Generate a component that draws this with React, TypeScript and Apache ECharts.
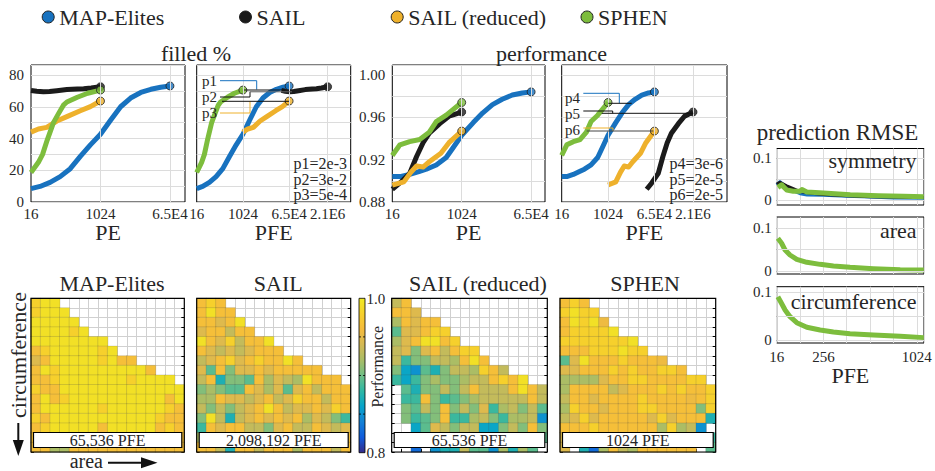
import React, { useEffect, useRef } from 'react';
import * as echarts from 'echarts';

const FONT = 'Liberation Serif';
const INK = '#262626';

const methods = ['MAP-Elites', 'SAIL', 'SAIL (reduced)', 'SPHEN'];
const methodColors = ['#1872bf', '#1b1b1b', '#eeb12c', '#7dbd3d'];
const legendLefts = [41.7, 239, 390.7, 580.5];

// ---- filled % against log2(number of evaluations, PE) ----
const meFillLog2 = [4, 4.78, 5.65, 6.52, 7.39, 8.26, 9.13, 10, 10.87, 11.74, 12.6, 13.48, 14.35, 15.2, 16];
const meFill = [8.4, 9.8, 12.4, 16, 21, 28.7, 36, 42.7, 51.5, 60, 65.5, 69, 71, 72.3, 73.1];
const sailFillLog2 = [4, 4.5, 5.07, 5.6, 6.23, 7.1, 8, 8.55, 9.2, 10];
const sailFill = [70.3, 69.8, 69.4, 69.6, 70.1, 70.8, 71.2, 71.3, 71.8, 72.6];
const sailRedFillLog2 = [4, 4.64, 5.36, 6.23, 7.1, 8.26, 9.13, 10];
const sailRedFill = [44, 46, 47, 51, 53.8, 57.5, 60.1, 63.6];
const sphenFillLog2 = [4, 4.64, 5.0, 5.4, 5.94, 6.4, 6.8, 7.1, 8.0, 8.9, 10];
const sphenFill = [18.6, 25, 30, 39, 50, 56, 61, 63, 66, 68.5, 70.5];

// ---- performance against log2(PE) ----
const mePerfLog2 = [4, 4.66, 5.5, 6.37, 6.94, 7.8, 8.66, 9.3, 10, 11, 11.8, 12.66, 13.5, 14.37, 15.23, 16];
const mePerf = [0.904, 0.904, 0.906, 0.909, 0.911, 0.915, 0.922, 0.932, 0.943, 0.955, 0.964, 0.972, 0.977, 0.981, 0.983, 0.984];
const sailPerfLog2 = [4, 4.66, 5.5, 6.1, 6.66, 7.2, 8.1, 8.9, 10];
const sailPerf = [0.892, 0.898, 0.907, 0.923, 0.936, 0.945, 0.954, 0.961, 0.965];
const sailRedPerfLog2 = [4, 5.0, 5.6, 6.1, 6.66, 7.2, 8.2, 8.9, 10];
const sailRedPerf = [0.896, 0.899, 0.908, 0.914, 0.913, 0.918, 0.926, 0.936, 0.947];
const sphenPerfLog2 = [4, 4.66, 5.5, 6.37, 7.2, 7.8, 8.66, 10];
const sphenPerf = [0.924, 0.934, 0.937, 0.939, 0.946, 0.956, 0.962, 0.974];

// PFE spent per PE (2,098,192 / 1024 and 65,536 / 1024)
const sailPfePerPe = 2048;
const sailRedPfePerPe = 64;

// ---- prediction RMSE (x = tick position units of the picture) ----
const symMeX = [4, 4.14, 4.43, 4.71, 5, 5.3, 6, 7, 8, 9, 10.3];
const symMe = [0.036, 0.044, 0.03, 0.022, 0.015, 0.012, 0.011, 0.009, 0.007, 0.005, 0.004];
const symSailX = [4, 4.14, 4.43, 4.71, 5, 5.5, 6, 7, 8, 9, 10.3];
const symSail = [0.038, 0.042, 0.034, 0.027, 0.02, 0.016, 0.013, 0.01, 0.008, 0.007, 0.006];
const symSphenX = [4.05, 4.21, 4.43, 4.71, 5.0, 5.08, 5.29, 6.0, 7.15, 8.36, 9.43, 10.3];
const symSphen = [0.03, 0.036, 0.024, 0.021, 0.021, 0.025, 0.019, 0.0167, 0.0127, 0.0103, 0.0087, 0.0079];
const areaSphenX = [4.05, 4.21, 4.36, 4.57, 4.86, 5.29, 5.86, 6.43, 7.14, 8.14, 9.29, 10.3];
const areaSphen = [0.0766, 0.065, 0.049, 0.0375, 0.0273, 0.0203, 0.0156, 0.0117, 0.0086, 0.0055, 0.0031, 0.0023];
const circSphenX = [4.05, 4.21, 4.36, 4.57, 4.86, 5.29, 5.86, 6.43, 7.14, 8.14, 9.29, 10.3];
const circSphen = [0.09, 0.076, 0.0625, 0.0486, 0.036, 0.0264, 0.0208, 0.0167, 0.0132, 0.0104, 0.0076, 0.0049];

// ---- tick labels ----
const peTicks = [4, 10, 16];
const peTickLabels = ['16', '1024', '6.5E4'];
const pfeTicks = [4, 10, 16, 21];
const pfeTickLabels = ['16', '1024', '6.5E4', '2.1E6'];
const rmseTicks = [4, 6, 10];
const rmseTickLabels = ['16', '256', '1024'];

// ---- archive heatmaps (row 0 = top), performance level codes ----
const cellLevel: Record<string, number> = {
  Y: 0.992, y: 0.98, O: 0.964, o: 0.956, K: 0.946, L: 0.932, G: 0.921, g: 0.907,
  T: 0.894, t: 0.884, C: 0.872, c: 0.862, B: 0.85, D: 0.828,
};
const meRows = [
  'yYY.............',
  'yYYY............',
  'YYYYY...........',
  'YYYYyY..........',
  'YYYYYYYY........',
  'OyYYYYYyY.......',
  'KOYYYYYyYOO.....',
  'OYyYYYYYYYYYO...',
  'OOyYYYYYYYyYYYY.',
  'yOOYYYYYYYYYYYYY',
  'OYOyYYYYYYYYYYOY',
  'OYYYYYYyYYYYYYyO',
  'yOYYYYYYYYYYYyOO',
  'OyYYYYYOYYYYYOyO',
  'OOYYYYYYYYYYYOOO',
  'OOGGOOOOOOOOOOOO',
];
const sailRows = [
  'OyO.............',
  'OYOO............',
  'OOKOY...........',
  'KOOLOO..........',
  'YOKyLOOY........',
  'OKLKLKOOO.......',
  'LKOyKOyOOYO.....',
  'KTOgKKOKOOOOO...',
  'LOCggTOGKLGYOOO.',
  'gGgTTOKGKTKOLOOO',
  'GGOKKLKOLKyOOLOO',
  'LgLgLKOYOLKKOKyO',
  'gYLCLKOKOKOGKLgt',
  'tOKOOLLgKOLLOKLK',
  'GOKOOLgKOOLOKOLO',
  'OOLCOOLOOOGOOOLO',
];
const sailRedRows = [
  'LO..............',
  'OOK.............',
  'GOKOO...........',
  'TKKOyy..........',
  'GKOYYOy.........',
  'LKgKOLOyy.......',
  'LtggLLGOYO......',
  'gcBTCgLLGyOL....',
  'tctgGggGLLOyOY..',
  '.TCggLgLOLLLOYOL',
  '.ttOgtTgGLLLLLOL',
  '.gTLgOgLgKtGLgLT',
  '.gtTgOttGLgtGGLB',
  '..cTKLgLLccgLgOg',
  '..TgGgLgGgTgLgGT',
  '..D.BCCLTTBGCGT.',
];
const sphenRows = [
  'OyO.............',
  'yYyy............',
  'OYyYo...........',
  'OyyyyY..........',
  'yyyyyyyY........',
  'OOOyyyYyy.......',
  'TKYOOOyOOOo.....',
  'KKOOOyOyOOyyO...',
  'GGGGKOOyyOOOOyy.',
  'GOOOOLKOOOyOyOOy',
  'LOOKOOOOyOOOOoOy',
  'GyOOKOOOyyOOOOgy',
  'LKyKOOOOOKyKOOOC',
  'OOOyOOOOOOGyGLB.',
  'KOOOOOOOOOOOOOOt',
  'K.CDGOLGOOOOOO.T',
];
const heatTitles = ['MAP-Elites', 'SAIL', 'SAIL (reduced)', 'SPHEN'];
const heatLabels = ['65,536 PFE', '2,098,192 PFE', '65,536 PFE', '1024 PFE'];

const parula = ['#352a87', '#0f5cdd', '#1481d6', '#06a4ca', '#2eb7a4', '#6fbe85', '#a9bd66', '#d4b954', '#f5bb3c', '#f6d02c', '#f0ea22'];

function cells(rows: string[]) {
  const out: number[][] = [];
  rows.forEach((row, r) => {
    row.split('').forEach((ch, c) => {
      if (cellLevel[ch] !== undefined) out.push([c, r, cellLevel[ch]]);
    });
  });
  return out;
}

function pairs(xs: number[], ys: number[], shift = 0) {
  return xs.map((x, i) => [x + shift, ys[i]]);
}

function buildOption() {
  const grid: any[] = [];
  const xAxis: any[] = [];
  const yAxis: any[] = [];
  const series: any[] = [];
  const graphic: any[] = [];
  const heatIdx: number[] = [];
  const gridLine = { color: '#dcdcdc', width: 1, type: 'solid' };

  const txt = (x: number, y: number, text: string, size: number, extra: any = {}, rot = 0) => ({
    type: 'text', x, y, rotation: rot, z: 100, silent: true,
    style: { text, fontFamily: FONT, fontSize: size, fill: INK, align: 'center', verticalAlign: 'middle', ...extra },
  });
  const pl = (pts: number[][], color: string, w = 1) => ({
    type: 'polyline', z: 60, silent: true, shape: { points: pts }, style: { stroke: color, lineWidth: w },
  });

  function addLinePlot(box: number[], xMax: number, ticks: number[], tickLabels: string[], xName: string,
    yMin: number, yMax: number, yInt: number, yLabel: any, curves: any[]) {
    const gi = grid.length;
    grid.push({ left: box[0], top: box[1], width: box[2], height: box[3], show: true, borderColor: '#000', borderWidth: 1, backgroundColor: 'transparent', containLabel: false, outerBoundsMode: 'none' });
    const xi = xAxis.length;
    xAxis.push({
      type: 'value', gridIndex: gi, min: 4, max: xMax, interval: 1,
      axisLine: { show: false }, axisTick: { show: false }, splitLine: { show: false },
      axisLabel: {
        fontFamily: FONT, fontSize: 15, color: INK, margin: 4,
        formatter: (v: number) => { const k = ticks.indexOf(Math.round(v * 1000) / 1000); return k >= 0 ? tickLabels[k] : ''; },
      },
      name: xName, nameLocation: 'middle', nameGap: 15, nameTextStyle: { fontFamily: FONT, fontSize: 22, color: INK },
    });
    const yi = yAxis.length;
    yAxis.push({
      type: 'value', gridIndex: gi, min: yMin, max: yMax, interval: yInt,
      axisLine: { show: false }, axisTick: { show: false }, splitLine: { show: true, lineStyle: gridLine },
      axisLabel: yLabel ? { fontFamily: FONT, fontSize: 15, color: INK, margin: 7, formatter: yLabel } : { show: false },
    });
    series.push({
      type: 'line', xAxisIndex: xi, yAxisIndex: yi, data: [], silent: true, z: 1,
      markLine: { silent: true, symbol: ['none', 'none'], label: { show: false }, lineStyle: gridLine, emphasis: { disabled: true }, data: ticks.filter(t => t > 4).map(t => ({ xAxis: t })) },
    });
    curves.forEach(c => series.push({
      name: c.name, type: 'line', xAxisIndex: xi, yAxisIndex: yi, data: c.data, symbol: 'none', z: 3,
      lineStyle: { color: c.color, width: 5, cap: 'butt', join: 'round' }, itemStyle: { color: c.color },
    }));
    curves.forEach(c => series.push({
      name: c.name, type: 'scatter', xAxisIndex: xi, yAxisIndex: yi, data: [c.data[c.data.length - 1]], symbolSize: 8, z: 4,
      itemStyle: { color: c.color, borderColor: '#222', borderWidth: 1 },
    }));
  }

  function addRmsePlot(box: number[], yMin: number, yMax: number, curves: any[], showX: boolean, inner: string, innerY: number) {
    const gi = grid.length;
    grid.push({ left: box[0], top: box[1], width: box[2], height: box[3], show: true, borderColor: '#000', borderWidth: 1, backgroundColor: 'transparent', containLabel: false, outerBoundsMode: 'none' });
    const xi = xAxis.length;
    xAxis.push({
      type: 'value', gridIndex: gi, min: 4, max: 10.31, interval: 1,
      axisLine: { show: false }, axisTick: { show: false }, splitLine: { show: true, lineStyle: gridLine },
      axisLabel: showX ? {
        fontFamily: FONT, fontSize: 15, color: INK, margin: 6,
        formatter: (v: number) => { const k = rmseTicks.indexOf(Math.round(v * 1000) / 1000); return k >= 0 ? rmseTickLabels[k] : ''; },
      } : { show: false },
      name: showX ? 'PFE' : '', nameLocation: 'middle', nameGap: 21, nameTextStyle: { fontFamily: FONT, fontSize: 22, color: INK },
    });
    const yi = yAxis.length;
    yAxis.push({
      type: 'value', gridIndex: gi, min: yMin, max: yMax,
      axisLine: { show: false }, splitLine: { show: false },
      axisTick: { show: true, inside: true, length: 3, customValues: [0, 0.05, 0.1], lineStyle: { color: '#333' } },
      axisLabel: {
        fontFamily: FONT, fontSize: 15, color: INK, margin: 5, customValues: [0, 0.1],
        formatter: (v: number) => (Math.abs(v) < 1e-9 ? '0' : Math.abs(v - 0.1) < 1e-9 ? '0.1' : ''),
      },
    });
    series.push({
      type: 'line', xAxisIndex: xi, yAxisIndex: yi, data: [], silent: true, z: 1,
      markLine: { silent: true, symbol: ['none', 'none'], label: { show: false }, lineStyle: gridLine, emphasis: { disabled: true }, data: [{ yAxis: 0 }, { yAxis: 0.05 }, { yAxis: 0.1 }] },
    });
    curves.forEach(c => series.push({
      name: c.name, type: 'line', xAxisIndex: xi, yAxisIndex: yi, data: c.data, symbol: 'none', z: 3,
      lineStyle: { color: c.color, width: c.width, cap: 'butt', join: 'round' }, itemStyle: { color: c.color },
    }));
    graphic.push(txt(box[0] + box[2] - 7.5, innerY, inner, 22, { align: 'right' }));
  }

  const cats = Array.from({ length: 16 }, (_, i) => String(i));
  function addHeatmap(box: number[], rows: string[], title: string, titleX: number, label: string) {
    const gi = grid.length;
    grid.push({ left: box[0], top: box[1], width: box[2], height: box[3], show: false, containLabel: false, outerBoundsMode: 'none' });
    const tick = { show: true, inside: true, length: 3, interval: 0, lineStyle: { color: '#000', width: 1 } };
    const xi = xAxis.length;
    xAxis.push({
      type: 'category', gridIndex: gi, data: cats, axisLine: { show: false }, axisLabel: { show: false, interval: 0 },
      axisTick: tick, splitLine: { show: true, interval: 0, lineStyle: { color: '#d0d0d0', width: 1 } },
    });
    const yi = yAxis.length;
    yAxis.push({
      type: 'category', gridIndex: gi, data: cats, inverse: true, axisLine: { show: false }, axisLabel: { show: false, interval: 0 },
      axisTick: tick, splitLine: { show: true, interval: 0, lineStyle: { color: '#d0d0d0', width: 1 } },
    });
    yAxis.push({
      type: 'category', gridIndex: gi, data: cats, inverse: true, position: 'right', axisLine: { show: false },
      axisLabel: { show: false, interval: 0 }, axisTick: tick, splitLine: { show: false },
    });
    heatIdx.push(series.length);
    series.push({
      type: 'heatmap', xAxisIndex: xi, yAxisIndex: yi, data: cells(rows), silent: true,
      itemStyle: { borderColor: 'rgba(80,80,80,0.3)', borderWidth: 0.6 }, emphasis: { disabled: true },
    });
    graphic.push({ type: 'rect', z: 90, silent: true, shape: { x: box[0], y: box[1], width: box[2], height: box[3] }, style: { fill: 'none', stroke: '#000', lineWidth: 1.2 } });
    graphic.push({ type: 'rect', z: 95, silent: true, shape: { x: box[0] + 2.5, y: 432.5, width: box[2] - 5, height: 15 }, style: { fill: '#fff', stroke: '#000', lineWidth: 1.2 } });
    graphic.push(txt(box[0] + box[2] / 2, 440.3, label, 16));
    graphic.push(txt(titleX, 283.3, title, 22));
  }

  // --- top row: filled % and performance ---
  const fillCurves = (pfe: boolean) => [
    { name: methods[0], color: methodColors[0], data: pairs(meFillLog2, meFill) },
    { name: methods[1], color: methodColors[1], data: pairs(sailFillLog2, sailFill, pfe ? Math.log2(sailPfePerPe) : 0) },
    { name: methods[2], color: methodColors[2], data: pairs(sailRedFillLog2, sailRedFill, pfe ? Math.log2(sailRedPfePerPe) : 0) },
    { name: methods[3], color: methodColors[3], data: pairs(sphenFillLog2, sphenFill) },
  ];
  const perfCurves = (pfe: boolean) => [
    { name: methods[0], color: methodColors[0], data: pairs(mePerfLog2, mePerf) },
    { name: methods[1], color: methodColors[1], data: pairs(sailPerfLog2, sailPerf, pfe ? Math.log2(sailPfePerPe) : 0) },
    { name: methods[2], color: methodColors[2], data: pairs(sailRedPerfLog2, sailRedPerf, pfe ? Math.log2(sailRedPfePerPe) : 0) },
    { name: methods[3], color: methodColors[3], data: pairs(sphenPerfLog2, sphenPerf) },
  ];
  const fillLabel = (v: number) => (Math.abs(v % 20) < 1e-6 && v <= 80 ? String(Math.round(v)) : '');
  const perfLabel = (v: number) => { const k = Math.round(v * 100); return Math.abs(v * 100 - k) < 1e-4 && k % 4 === 0 ? v.toFixed(2) : ''; };

  addLinePlot([31, 65, 154, 137], 17.3, peTicks, peTickLabels, 'PE', 0, 86.3, 10, fillLabel, fillCurves(false));
  addLinePlot([196.7, 65, 154, 137], 24, pfeTicks, pfeTickLabels, 'PFE', 0, 86.3, 10, null, fillCurves(true));
  addLinePlot([392.3, 65, 152.7, 137], 17.2, peTicks, peTickLabels, 'PE', 0.88, 1.0094, 0.02, perfLabel, perfCurves(false));
  addLinePlot([561.7, 65, 165.3, 137], 25.4, pfeTicks, pfeTickLabels, 'PFE', 0.88, 1.0094, 0.02, null, perfCurves(true));

  // --- right column: prediction RMSE ---
  addRmsePlot([776.7, 148.5, 147.3, 56.5], -0.012, 0.123, [
    { name: methods[0], color: methodColors[0], width: 3, data: pairs(symMeX, symMe) },
    { name: methods[1], color: methodColors[1], width: 3, data: pairs(symSailX, symSail) },
    { name: methods[3], color: methodColors[3], width: 5, data: pairs(symSphenX, symSphen) },
  ], false, 'symmetry', 160);
  addRmsePlot([776.7, 217, 147.3, 57], -0.007, 0.1265, [
    { name: methods[3], color: methodColors[3], width: 5, data: pairs(areaSphenX, areaSphen) },
  ], false, 'area', 230);
  addRmsePlot([776.7, 286.7, 147.3, 56.3], -0.0063, 0.111, [
    { name: methods[3], color: methodColors[3], width: 5, data: pairs(circSphenX, circSphen) },
  ], true, 'circumference', 301.7);

  // --- bottom row: archives ---
  addHeatmap([31, 298.3, 153.3, 153.7], meRows, heatTitles[0], 112, heatLabels[0]);
  addHeatmap([196.7, 298.3, 154, 153.7], sailRows, heatTitles[1], 278.3, heatLabels[1]);
  addHeatmap([391.7, 298.3, 155.6, 153.7], sailRedRows, heatTitles[2], 478, heatLabels[2]);
  addHeatmap([560, 298.3, 155.7, 153.7], sphenRows, heatTitles[3], 645, heatLabels[3]);

  // titles
  graphic.push(txt(196, 53.3, 'filled %', 22));
  graphic.push(txt(551.5, 53.3, 'performance', 22));
  graphic.push(txt(837.5, 132, 'prediction RMSE', 23));

  // significance brackets, filled % (PFE)
  graphic.push(txt(202, 81.2, 'p1', 15, { align: 'left' }));
  graphic.push(txt(202, 97, 'p2', 15, { align: 'left' }));
  graphic.push(txt(202, 113.3, 'p3', 15, { align: 'left' }));
  graphic.push(pl([[220, 80.7], [256.7, 80.7], [256.7, 89.5]], methodColors[0]));
  graphic.push(pl([[244, 90], [285, 90]], '#111'));
  graphic.push(pl([[220, 97], [250, 97], [250, 91.8]], '#111'));
  graphic.push(pl([[250, 91.8], [292, 91.8]], '#666'));
  graphic.push(pl([[220, 113], [250, 113], [250, 101.3]], methodColors[2]));
  graphic.push(pl([[222, 101.3], [289, 101.3]], '#111'));
  graphic.push(txt(347, 163.5, 'p1=2e-3', 16, { align: 'right' }));
  graphic.push(txt(347, 179, 'p2=3e-2', 16, { align: 'right' }));
  graphic.push(txt(347, 194.5, 'p3=5e-4', 16, { align: 'right' }));

  // significance brackets, performance (PFE)
  graphic.push(txt(565, 97.5, 'p4', 15, { align: 'left' }));
  graphic.push(txt(565, 113.5, 'p5', 15, { align: 'left' }));
  graphic.push(txt(565, 130, 'p6', 15, { align: 'left' }));
  graphic.push(pl([[583.3, 93.3], [619.3, 93.3], [619.3, 103.3]], methodColors[0]));
  graphic.push(pl([[608.3, 103.3], [631.7, 103.3]], '#111'));
  graphic.push(pl([[583.3, 111], [612.7, 111], [612.7, 113.3]], '#111'));
  graphic.push(pl([[601.7, 113.3], [693.3, 113.3]], '#111'));
  graphic.push(pl([[583.3, 128], [613, 128], [613, 131]], methodColors[2]));
  graphic.push(pl([[586.7, 131], [653.3, 131]], '#444'));
  graphic.push(txt(723, 163.5, 'p4=3e-6', 16, { align: 'right' }));
  graphic.push(txt(723, 179, 'p5=2e-5', 16, { align: 'right' }));
  graphic.push(txt(723, 194.5, 'p6=2e-5', 16, { align: 'right' }));

  // archive axis labels and arrows
  graphic.push(txt(18.3, 355, 'circumference', 22, {}, Math.PI / 2));
  graphic.push({ type: 'line', z: 100, silent: true, shape: { x1: 18.3, y1: 423, x2: 18.3, y2: 444 }, style: { stroke: '#111', lineWidth: 2 } });
  graphic.push({ type: 'polygon', z: 100, silent: true, shape: { points: [[12.8, 440], [23.8, 440], [18.3, 456]] }, style: { fill: '#111' } });
  graphic.push(txt(86.3, 460.5, 'area', 20));
  graphic.push({ type: 'line', z: 100, silent: true, shape: { x1: 108, y1: 462.7, x2: 145, y2: 462.7 }, style: { stroke: '#111', lineWidth: 2 } });
  graphic.push({ type: 'polygon', z: 100, silent: true, shape: { points: [[141, 457.2], [141, 468.2], [157.5, 462.7]] }, style: { fill: '#111' } });

  // colour bar
  const cbStops = parula.map((c, i) => ({ offset: 1 - i / (parula.length - 1), color: c })).reverse();
  graphic.push({
    type: 'rect', z: 90, silent: true, shape: { x: 359, y: 298.3, width: 6, height: 154.4 },
    style: { fill: new echarts.graphic.LinearGradient(0, 0, 0, 1, cbStops), stroke: '#000', lineWidth: 0.8 },
  });
  [0.25, 0.5, 0.75].forEach(f => {
    const y = 298.3 + 154.4 * f;
    graphic.push({ type: 'line', z: 91, silent: true, shape: { x1: 359, y1: y, x2: 361, y2: y }, style: { stroke: '#000', lineWidth: 0.8 } });
    graphic.push({ type: 'line', z: 91, silent: true, shape: { x1: 363, y1: y, x2: 365, y2: y }, style: { stroke: '#000', lineWidth: 0.8 } });
  });
  graphic.push(txt(366.5, 298.5, '1.0', 15, { align: 'left' }));
  graphic.push(txt(366.5, 452.5, '0.8', 15, { align: 'left' }));
  graphic.push(txt(377, 366.7, 'Performance', 16, {}, Math.PI / 2));

  return {
    animation: false,
    backgroundColor: '#fff',
    textStyle: { fontFamily: FONT },
    legend: methods.map((m, i) => ({
      data: [{ name: m, icon: 'circle' }], left: legendLefts[i], top: 6, padding: 0, itemWidth: 12, itemHeight: 12,
      selectedMode: false, textStyle: { fontFamily: FONT, fontSize: 22, color: INK },
      itemStyle: { borderColor: '#222', borderWidth: 1 },
    })),
    grid, xAxis, yAxis, series, graphic,
    visualMap: [{
      type: 'continuous', show: false, min: 0.8, max: 1.0, dimension: 2, seriesIndex: heatIdx,
      inRange: { color: parula },
    }],
  };
}

export default function App() {
  const ref = useRef<HTMLDivElement>(null);
  useEffect(() => {
    document.body.style.margin = '0';
    const chart = echarts.init(ref.current as HTMLDivElement, null, { renderer: 'svg' });
    chart.setOption(buildOption() as any);
    return () => chart.dispose();
  }, []);
  return <div ref={ref} style={{ width: 935, height: 471, background: '#fff' }} />;
}
